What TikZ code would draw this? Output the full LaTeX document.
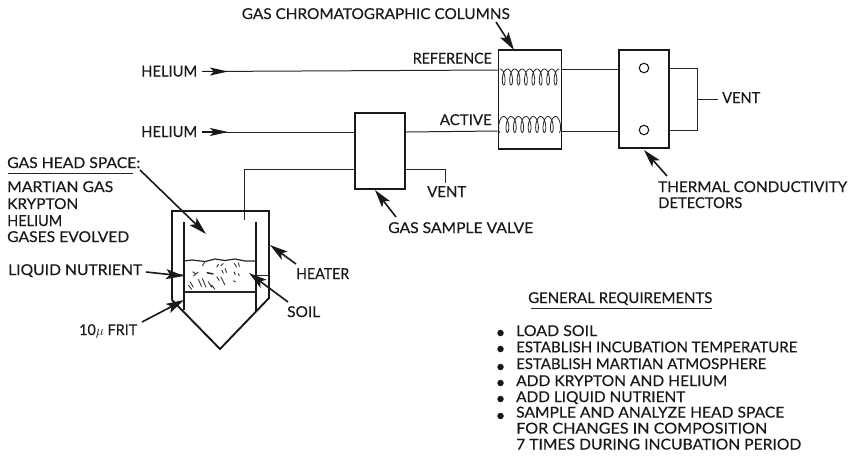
\documentclass[tikz,border=0pt]{standalone}
\usepackage{graphicx}
\usepackage{fontspec}
\setmainfont{Lato}[FakeBold=0.35]
\usetikzlibrary{arrows.meta}
\newcommand{\fitw}[2]{\resizebox{#1pt}{10.8pt}{#2}}
\tikzset{
  lbl/.style={inner sep=0pt,font=\fontsize{15}{16}\selectfont,text=black!90},
  heavy/.style={line width=1.9pt,black!90},
  boxn/.style={draw=black!90,line width=1.9pt,inner sep=0pt,fill=none},
  ptr/.style={line width=1.6pt,black!90,-{Stealth[length=18pt,width=10pt,inset=4pt]}},
  midptr/.style={line width=1.2pt,black!90,-{Stealth[length=18pt,width=8pt,inset=4pt]}},
  wire/.style={line width=1pt,black!85},
  bul/.style={circle,fill=black!90,inner sep=0pt,minimum size=6.5pt},
}
\begin{document}
\begin{tikzpicture}[x=1pt,y=-1pt]
\useasboundingbox (0,0) rectangle (850,456);
% boxes
\node[boxn,minimum width=63pt,minimum height=99pt] (cols) at (530,99.5) {};
\node[boxn,minimum width=50pt,minimum height=98pt] (det) at (644,99) {};
\node[boxn,minimum width=50pt,minimum height=76pt] (valve) at (380,151) {};
\node[draw=black!90,circle,line width=1.1pt,minimum size=9.5pt,inner sep=0pt] (c1) at (644,68) {};
\node[draw=black!90,circle,line width=1.1pt,minimum size=9.5pt,inner sep=0pt] (c2) at (644,130) {};
% labels
\node[lbl,anchor=base east] (tgc) at (510,19) {\fitw{268}{GAS CHROMATOGRAPHIC COLUMNS}};
\node[lbl,anchor=base west] (hel1) at (141,76.5) {\fitw{56}{HELIUM}};
\node[lbl,anchor=base west] (hel2) at (141,137) {\fitw{56}{HELIUM}};
\node[lbl,anchor=base east] (ref) at (492,63.5) {\fitw{79}{REFERENCE}};
\node[lbl,anchor=base east] (act) at (492,125) {\fitw{52}{ACTIVE}};
\node[lbl,anchor=base west] (v1) at (722,103) {\fitw{38}{VENT}};
\node[lbl,anchor=base west] (v2) at (427,197) {\fitw{39}{VENT}};
\node[lbl,anchor=base west] (tv) at (388,233) {\fitw{145}{GAS SAMPLE VALVE}};
\node[lbl,anchor=base west] (th1) at (658,192) {\fitw{189}{THERMAL CONDUCTIVITY}};
\node[lbl,anchor=base west] (th2) at (658,208) {\fitw{84}{DETECTORS}};
\node[lbl,anchor=base west] (ghs) at (7,168) {\fitw{133}{GAS HEAD SPACE:}};
\node[lbl,anchor=base west] (g1) at (7,192) {\fitw{106}{MARTIAN GAS}};
\node[lbl,anchor=base west] (g2) at (7,209) {\fitw{71}{KRYPTON}};
\node[lbl,anchor=base west] (g3) at (7,226) {\fitw{55}{HELIUM}};
\node[lbl,anchor=base west] (g4) at (7,242) {\fitw{122}{GASES EVOLVED}};
\node[lbl,anchor=base west] (liq) at (8,275) {\fitw{134}{LIQUID NUTRIENT}};
\node[lbl,anchor=base west] (heat) at (296,279) {\fitw{53}{HEATER}};
\node[lbl,anchor=base west] (soil) at (287,317) {\fitw{33}{SOIL}};
\node[lbl,anchor=base west] (frit) at (79,335) {\fitw{58}{10$\mu$ FRIT}};
\node[lbl,anchor=base west] (gr) at (528,303) {\fitw{184}{GENERAL REQUIREMENTS}};
\draw[wire] (531,308) -- (712,308);
\draw[wire] (8,173) -- (133,173);
\foreach \yy/\txt/\bb/\by/\ww in {336/LOAD SOIL/1/333/81,352.3/ESTABLISH INCUBATION TEMPERATURE/1/349/281,369/ESTABLISH MARTIAN ATMOSPHERE/1/367/250,386/ADD KRYPTON AND HELIUM/1/383/211,402/ADD LIQUID NUTRIENT/1/399/169,417.5/SAMPLE AND ANALYZE HEAD SPACE/1/416/268,433.5/FOR CHANGES IN COMPOSITION/0/0/251,449.5/7 TIMES DURING INCUBATION PERIOD/0/0/285}{
  \node[lbl,anchor=base west] at (516,\yy) {\fitw{\ww}{\txt}};
  \ifnum\bb=1 \node[bul] at (500.5,\by) {};\fi
}
% wires
\draw[wire] (hel1.east |- 0,71.5) ++(5,0) -- (cols.west |- 0,70);
\draw[midptr] (hel1.east |- 0,71.5) ++(5,0) -- (228,71.5);
\draw[wire] (hel2.east |- 0,132) ++(5,0) -- (valve.west |- 0,132);
\draw[midptr] (hel2.east |- 0,132) ++(5,0) -- (228,132);
\draw[wire] (valve.east |- 0,132) -- (cols.west |- 0,131);
\draw[wire] (244,220) -- (244,169) -- (valve.west |- 0,169);
\draw[wire] (valve.east |- 0,169) -- (445,169) -- (445,183);
\draw[wire] (cols.east |- 0,69) -- (det.west |- 0,69);
\draw[wire] (cols.east |- 0,131) -- (det.west |- 0,131);
\draw[wire] (det.east |- 0,68) -- (697,68) -- (697,130) -- (det.east |- 0,130);
\draw[wire] (697,99) -- (718,99);
% coils
\draw[line width=0.8pt,black!85,smooth,samples=200,domain=0:2880,variable=\t]
  plot ({500+\t/360*7.4+3*sin(\t)},{77-8*cos(\t)});
\draw[line width=0.8pt,black!85,smooth,samples=200,domain=0:2880,variable=\t]
  plot ({500+\t/360*7.4-3*sin(\t)},{124.5+8*cos(\t)});
% vessel
\draw[heavy,line join=miter] (172,300) -- (172,211) -- (269,211) -- (269,298) -- (220,349) -- (172,300);
\draw[line width=1.4pt,black!90] (184,222) -- (184,310);
\draw[line width=1.4pt,black!90] (256,222) -- (256,312);
\draw[line width=1.2pt,black!85] (184,261) -- (192,260) -- (205,261.5) -- (215,259) -- (225,260.5) -- (235,259) -- (245,261) -- (256,261);
\draw[line width=1.4pt,black!85] (184,292) -- (256,292);
\draw[line width=1pt,black!85] (256,275) -- (269,275);
\draw[line width=1pt,black!85] (172,274.5) -- (184,275);
% soil marks
\begin{scope}[shift={(170,250)},x=0.3333pt,y=-0.3333pt]
\draw[line width=0.9pt,black!80] (97,48)--(104,36) (140,52)--(146,42) (152,48)--(160,40) (193,40)--(200,52) (205,38)--(208,50) (192,65)--(196,75) (205,70)--(208,78) (190,92)--(197,96) (155,60)--(160,70) (165,55)--(170,68) (68,65)--(78,72) (70,78)--(85,66) (60,95)--(70,112) (55,105)--(65,118) (85,88)--(95,110) (97,85)--(108,112) (115,95)--(125,112) (125,105)--(135,118) (140,80)--(148,92) (152,80)--(160,95) (160,95)--(165,105);
\draw[line width=1.5pt,black!85] (110,68)--(130,72);
\end{scope}
% pointers
\draw[ptr] (496,22) -- (514,50);
\draw[ptr] (667,176) -- (644,150);
\draw[ptr] (396,217) -- (375,190);
\draw[ptr] (140,170) -- (206,234);
\draw[ptr] (146,272) -- (184,276);
\draw[ptr] (296,264) -- (270,245);
\draw[ptr] (288,302) -- (249,273);
\draw[ptr] (142,322) -- (184,300);
\end{tikzpicture}
\end{document}
